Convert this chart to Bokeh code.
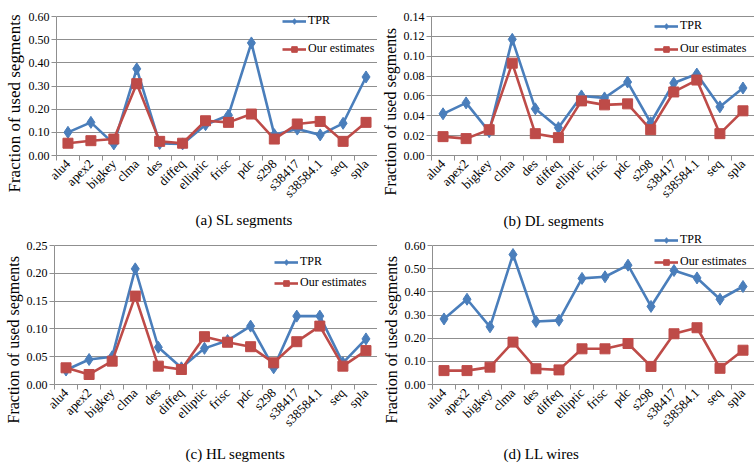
from bokeh.plotting import figure
from bokeh.layouts import column, row
from bokeh.models import Range1d, FixedTicker, PrintfTickFormatter, Title, Legend, LegendItem
from bokeh.embed import file_html
from bokeh.resources import INLINE
import math

cats = ["alu4", "apex2", "bigkey", "clma", "des", "diffeq", "elliptic", "frisc",
        "pdc", "s298", "s38417", "s38584.1", "seq", "spla"]

sl_tpr = [0.100, 0.143, 0.050, 0.374, 0.052, 0.050, 0.133, 0.174, 0.486, 0.090, 0.114, 0.089, 0.139, 0.339]
sl_est = [0.053, 0.064, 0.071, 0.310, 0.061, 0.053, 0.150, 0.143, 0.179, 0.071, 0.136, 0.147, 0.061, 0.143]

dl_tpr = [0.042, 0.053, 0.024, 0.117, 0.047, 0.028, 0.060, 0.058, 0.074, 0.033, 0.073, 0.082, 0.049, 0.068]
dl_est = [0.019, 0.017, 0.026, 0.093, 0.022, 0.018, 0.055, 0.051, 0.052, 0.026, 0.064, 0.076, 0.022, 0.045]

hl_tpr = [0.026, 0.045, 0.050, 0.208, 0.067, 0.030, 0.065, 0.079, 0.105, 0.030, 0.123, 0.123, 0.039, 0.082]
hl_est = [0.030, 0.018, 0.042, 0.159, 0.033, 0.027, 0.086, 0.076, 0.068, 0.039, 0.077, 0.105, 0.033, 0.061]

ll_tpr = [0.283, 0.368, 0.249, 0.561, 0.272, 0.277, 0.458, 0.465, 0.515, 0.337, 0.492, 0.460, 0.368, 0.423]
ll_est = [0.060, 0.060, 0.075, 0.183, 0.068, 0.063, 0.154, 0.154, 0.177, 0.078, 0.219, 0.245, 0.070, 0.148]

series_names = ["TPR", "Our estimates"]
titles = ["(a) SL segments", "(b) DL segments", "(c) HL segments", "(d) LL wires"]
y_label = "Fraction of used segments"

BLUE = "#4a7ebb"
RED = "#be4b48"
GRID = "#8f8f8f"
FONT = "Liberation Serif"


def make_panel(tpr, est, title, ymax, ystep, width, height, bl, bt, bb,
               leg_x, leg_y, leg_spacing, title_offset, title_standoff,
               ylab_offset, ylab_size, head=0.0):
    p = figure(width=width, height=height, output_backend="svg", toolbar_location=None,
               x_range=Range1d(0, len(cats)), y_range=Range1d(0, ymax * (1 + head)),
               min_border_left=bl, min_border_right=0, min_border_top=bt, min_border_bottom=bb)
    p.outline_line_color = None
    p.background_fill_color = "white"
    xs = [i + 0.5 for i in range(len(cats))]
    nt = int(round(ymax / ystep))
    yticks = [round(k * ystep, 4) for k in range(nt + 1)]

    # x axis
    ax = p.xaxis[0]
    ax.ticker = FixedTicker(ticks=xs, minor_ticks=list(range(len(cats) + 1)))
    ax.major_label_overrides = {x: c for x, c in zip(xs, cats)}
    ax.major_label_orientation = math.pi / 4
    ax.major_tick_line_color = None
    ax.major_tick_out = 5
    ax.major_label_standoff = 1
    ax.minor_tick_line_color = GRID
    ax.minor_tick_out = 5
    ax.minor_tick_in = 0
    ax.axis_line_color = GRID
    ax.major_label_text_font = FONT
    ax.major_label_text_font_size = "13px"
    ax.major_label_text_color = "black"

    # y axis
    ay = p.yaxis[0]
    ay.ticker = FixedTicker(ticks=yticks)
    ay.bounds = (0, ymax)
    ay.formatter = PrintfTickFormatter(format="%.2f")
    ay.minor_tick_line_color = None
    ay.major_tick_out = 5
    ay.major_tick_in = 0
    ay.major_tick_line_color = GRID
    ay.axis_line_color = GRID
    ay.major_label_standoff = 2
    ay.major_label_text_font = FONT
    ay.major_label_text_font_size = "12px"
    ay.major_label_text_color = "black"

    # y axis title (placed as a left-side title so it can sit lower, as in the original)
    yt = Title(text=y_label, align="left", offset=ylab_offset, text_font=FONT,
               text_font_size=ylab_size, text_font_style="normal", text_color="black",
               standoff=4)
    p.add_layout(yt, "left")

    p.xgrid.visible = False
    p.ygrid.grid_line_color = GRID
    p.ygrid.grid_line_width = 1

    l1 = p.line(xs, tpr, line_color=BLUE, line_width=2.6)
    m1 = p.scatter(xs, tpr, marker="diamond", size=12, fill_color=BLUE, line_color=BLUE)
    l2 = p.line(xs, est, line_color=RED, line_width=2.6)
    m2 = p.scatter(xs, est, marker="square", size=10, fill_color=RED, line_color=RED)

    leg = Legend(items=[LegendItem(label=series_names[0], renderers=[l1, m1]),
                        LegendItem(label=series_names[1], renderers=[l2, m2])],
                 location=(leg_x, leg_y), margin=0, padding=0, spacing=leg_spacing,
                 glyph_width=24, glyph_height=14, label_height=14, label_standoff=2,
                 background_fill_alpha=0, border_line_color=None,
                 label_text_font=FONT, label_text_font_size="12px", label_text_color="black")
    p.add_layout(leg, "center")

    t = Title(text=title, align="left", offset=title_offset, text_font=FONT,
              text_font_size="15px", text_font_style="normal", text_color="black",
              standoff=title_standoff)
    p.add_layout(t, "below")
    return p


HEAD_TOP = 8 / 139
HEAD_BOTTOM = 12 / 139

pa = make_panel(sl_tpr, sl_est, titles[0], 0.60, 0.10, 377, 230, 54, 8, 74,
                226, 99, 13, 139, 3, -37, "17px", head=HEAD_TOP)
pb = make_panel(dl_tpr, dl_est, titles[1], 0.14, 0.02, 377, 230, 54, 8, 75,
                223, 99, 8, 72, 4, -40, "16px", head=HEAD_TOP)
pc = make_panel(hl_tpr, hl_est, titles[2], 0.25, 0.05, 377, 237, 54, 3, 83,
                220, 94, 6, 131, 12, -39, "16px", head=HEAD_BOTTOM)
pd = make_panel(ll_tpr, ll_est, titles[3], 0.60, 0.10, 377, 237, 55, 3, 83,
                222, 115, 7, 71, 12, -39, "16px", head=HEAD_BOTTOM)

layout = column(row(pa, pb), row(pc, pd))
open("out.html", "w").write(file_html(layout, INLINE))
